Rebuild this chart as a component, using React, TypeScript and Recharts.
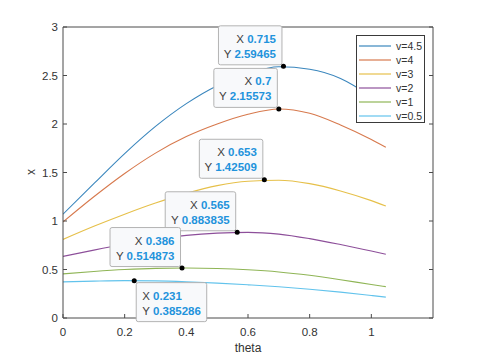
import React from 'react';
import { LineChart, Line, XAxis, YAxis, ReferenceDot } from 'recharts';

// ---- data ----
const thetaGrid = [0, 0.1, 0.2, 0.3, 0.4, 0.5, 0.6, 0.7, 0.8, 0.9, 1.0, 1.047];
const seriesNames = ['v=4.5', 'v=4', 'v=3', 'v=2', 'v=1', 'v=0.5'];
const xV45 = [1.07, 1.385, 1.695, 1.975, 2.21, 2.395, 2.52, 2.59, 2.565, 2.47, 2.28, 2.17];
const xV4 = [0.99, 1.25, 1.49, 1.7, 1.87, 2.0, 2.1, 2.155, 2.11, 1.99, 1.84, 1.76];
const xV3 = [0.81, 0.945, 1.07, 1.185, 1.285, 1.365, 1.41, 1.42, 1.385, 1.31, 1.21, 1.155];
const xV2 = [0.635, 0.7, 0.76, 0.812, 0.852, 0.875, 0.883, 0.865, 0.818, 0.757, 0.69, 0.658];
const xV1 = [0.455, 0.48, 0.5, 0.512, 0.515, 0.51, 0.497, 0.475, 0.44, 0.395, 0.345, 0.323];
const xV05 = [0.372, 0.38, 0.385, 0.383, 0.374, 0.36, 0.342, 0.322, 0.297, 0.267, 0.232, 0.215];
const seriesValues = [xV45, xV4, xV3, xV2, xV1, xV05];

const xTicks = [0, 0.2, 0.4, 0.6, 0.8, 1];
const yTicks = [0, 0.5, 1, 1.5, 2, 2.5, 3];

const tipTheta = [0.715, 0.7, 0.653, 0.565, 0.386, 0.231];
const tipValue = [2.59465, 2.15573, 1.42509, 0.883835, 0.514873, 0.385286];
const tipXText = ['0.715', '0.7', '0.653', '0.565', '0.386', '0.231'];
const tipYText = ['2.59465', '2.15573', '1.42509', '0.883835', '0.514873', '0.385286'];

// ---- styles ----
const seriesColors = ['#3a86bd', '#d7794d', '#e6c04a', '#8d4f9a', '#8fb556', '#62c3ec'];
const tipPlacement = ['tl', 'tl', 'tl', 'tl', 'tl', 'br'];
const axisColor = '#4a4a4a';
const textColor = '#333333';
const font = "'Liberation Sans', Arial, Helvetica, sans-serif";

const seriesData = seriesValues.map((vals) => thetaGrid.map((t, i) => ({ t, x: vals[i] })));

const fmt = (v: number) => String(v);

const BottomTick = (p: any) => (
  <g>
    <line x1={p.x} x2={p.x} y1={p.y} y2={p.y - 4} stroke={axisColor} strokeWidth={1} />
    <text x={p.x} y={p.y + 18} textAnchor="middle" fontSize={11.5} fontFamily={font} fill={textColor}>
      {fmt(p.payload.value)}
    </text>
  </g>
);
const LeftTick = (p: any) => (
  <g>
    <line x1={p.x} x2={p.x + 4} y1={p.y} y2={p.y} stroke={axisColor} strokeWidth={1} />
    <text x={p.x - 5} y={p.y + 4} textAnchor="end" fontSize={11.5} fontFamily={font} fill={textColor}>
      {fmt(p.payload.value)}
    </text>
  </g>
);
const TopTick = (p: any) => (
  <line x1={p.x} x2={p.x} y1={p.y} y2={p.y + 4} stroke={axisColor} strokeWidth={1} />
);
const RightTick = (p: any) => (
  <line x1={p.x} x2={p.x - 4} y1={p.y} y2={p.y} stroke={axisColor} strokeWidth={1} />
);

const makeTip = (i: number) => (p: any) => {
  const cx = p.cx;
  const cy = p.cy;
  const w = 14.5 + 7 * tipYText[i].length;
  const h = 39;
  const tl = tipPlacement[i] === 'tl';
  const bx = tl ? cx - w - 1.5 : cx + 2;
  const by = tl ? cy - h - 1.5 : cy + 2;
  const tx = tl ? bx + w - 6 : bx + 6;
  const anchor = tl ? 'end' : 'start';
  return (
    <g>
      <rect x={bx} y={by} width={w} height={h} rx={2} fill="#f8f9fb" stroke="#b3b3b3" strokeWidth={1} />
      <text x={tx} y={by + 17} textAnchor={anchor} fontSize={11.5} fontFamily={font}>
        <tspan fill="#404040">X </tspan>
        <tspan fill="#1f93dc" fontWeight="bold">{tipXText[i]}</tspan>
      </text>
      <text x={tx} y={by + 32} textAnchor={anchor} fontSize={11.5} fontFamily={font}>
        <tspan fill="#404040">Y </tspan>
        <tspan fill="#1f93dc" fontWeight="bold">{tipYText[i]}</tspan>
      </text>
      <circle cx={cx} cy={cy} r={2.5} fill="#000" />
    </g>
  );
};

const layerStyle: React.CSSProperties = { position: 'absolute', left: 0, top: 0 };

export default function App() {
  return (
    <div style={{ position: 'absolute', left: 0, top: 0, width: 479, height: 359, background: '#fff', fontFamily: font }}>
      <div style={layerStyle}>
        <LineChart width={479} height={359} margin={{ top: 26, right: 45, bottom: 40, left: 62 }}>
          <XAxis
            dataKey="t"
            type="number"
            domain={[0, 1.2]}
            ticks={xTicks}
            interval={0}
            height={1}
            tickSize={0}
            tickMargin={0}
            tickLine={false}
            axisLine={{ stroke: axisColor }}
            tick={<BottomTick />}
            allowDataOverflow
          />
          <XAxis
            xAxisId="top"
            orientation="top"
            type="number"
            domain={[0, 1.2]}
            ticks={xTicks}
            interval={0}
            height={1}
            tickSize={0}
            tickMargin={0}
            tickLine={false}
            axisLine={{ stroke: axisColor }}
            tick={<TopTick />}
            allowDataOverflow
          />
          <YAxis
            type="number"
            domain={[0, 3]}
            ticks={yTicks}
            interval={0}
            width={1}
            tickSize={0}
            tickMargin={0}
            tickLine={false}
            axisLine={{ stroke: axisColor }}
            tick={<LeftTick />}
            allowDataOverflow
          />
          <YAxis
            yAxisId="right"
            orientation="right"
            type="number"
            domain={[0, 3]}
            ticks={yTicks}
            interval={0}
            width={1}
            tickSize={0}
            tickMargin={0}
            tickLine={false}
            axisLine={{ stroke: axisColor }}
            tick={<RightTick />}
            allowDataOverflow
          />
          {seriesData.map((d, i) => (
            <Line
              key={seriesNames[i]}
              data={d}
              dataKey="x"
              name={seriesNames[i]}
              type="monotone"
              stroke={seriesColors[i]}
              strokeWidth={1.1}
              dot={false}
              activeDot={false}
              isAnimationActive={false}
            />
          ))}
        </LineChart>
      </div>
      {/* data tips, drawn on top of the axes with the same scales */}
      <div style={layerStyle}>
        <LineChart width={479} height={359} margin={{ top: 27, right: 46, bottom: 41, left: 63 }}>
          <XAxis dataKey="t" type="number" domain={[0, 1.2]} hide allowDataOverflow />
          <YAxis type="number" domain={[0, 3]} hide allowDataOverflow />
          <Line data={seriesData[0]} dataKey="x" stroke="none" dot={false} activeDot={false} isAnimationActive={false} />
          {tipTheta.map((t, i) => (
            <ReferenceDot key={'tip' + i} x={t} y={tipValue[i]} r={2.5} shape={makeTip(i)} ifOverflow="visible" />
          ))}
        </LineChart>
      </div>
      {/* legend */}
      <div
        style={{
          position: 'absolute',
          left: 356,
          top: 35,
          width: 67,
          height: 86,
          background: '#fff',
          border: '1px solid #3a3a3a',
        }}
      >
        {seriesNames.map((n, i) => (
          <div key={n} style={{ position: 'absolute', left: 0, top: 2.5 + i * 14, height: 14, width: 67 }}>
            <svg width={36} height={14} style={{ position: 'absolute', left: 0, top: 0 }}>
              <line x1={2} x2={34} y1={7} y2={7} stroke={seriesColors[i]} strokeWidth={1.2} />
            </svg>
            <div style={{ position: 'absolute', left: 39, top: 0, fontSize: 10.5, lineHeight: '14px', color: textColor }}>{n}</div>
          </div>
        ))}
      </div>
      {/* axis labels */}
      <div style={{ position: 'absolute', left: 248, top: 348, transform: 'translate(-50%,-50%)', fontSize: 12, color: textColor, whiteSpace: 'nowrap' }}>
        theta
      </div>
      <div style={{ position: 'absolute', left: 31, top: 172, transform: 'translate(-50%,-50%) rotate(-90deg)', fontSize: 12, color: textColor }}>
        x
      </div>
    </div>
  );
}
